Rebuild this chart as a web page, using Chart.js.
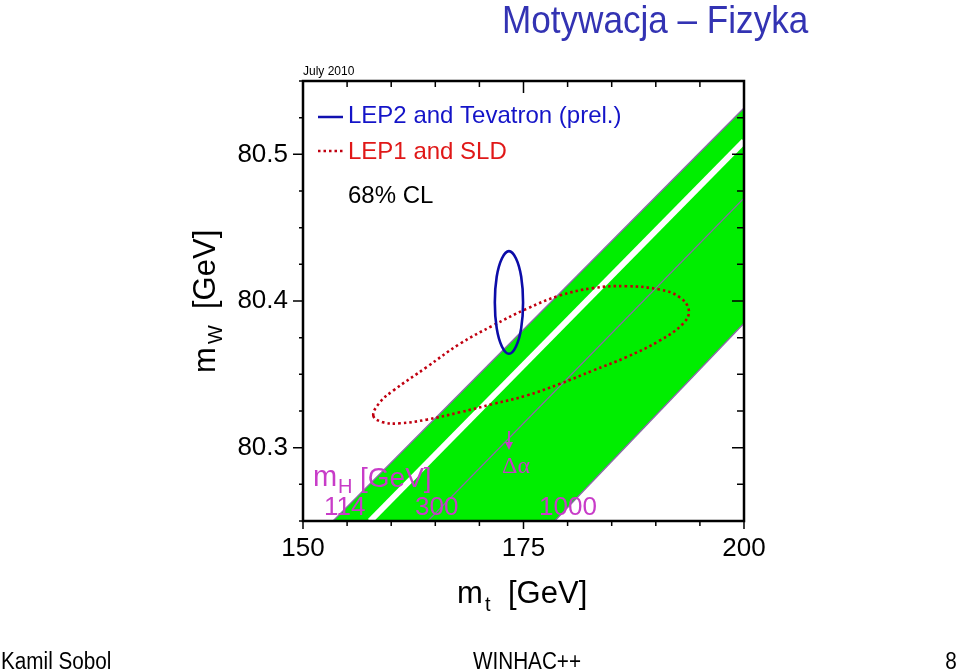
<!DOCTYPE html>
<html>
<head>
<meta charset="utf-8">
<script src="https://cdn.jsdelivr.net/npm/chart.js@4.4.0/dist/chart.umd.min.js"></script>
<style>
  body { margin: 0; width: 960px; height: 670px; overflow: hidden; background: #fff; position: relative; font-family: "Liberation Sans", Arial, sans-serif; }
  #plot { position: absolute; left: 0; top: 0; }
  .slide { position: absolute; line-height: 1; white-space: nowrap; }
  .title { right: 152px; top: 0; font-size: 39px; color: #3333b3; transform: scaleX(0.9); transform-origin: right top; }
  .foot { top: 650px; font-size: 23px; color: #000; transform: scaleX(0.9); }
</style>
</head>
<body>
<canvas id="plot" width="960" height="670"></canvas>
<div class="slide title">Motywacja – Fizyka</div>
<div class="slide foot" style="left:1px; transform-origin:left top;">Kamil Sobol</div>
<div class="slide foot" style="left:427px; width:200px; text-align:center; transform-origin:center top;">WINHAC++</div>
<div class="slide foot" style="right:3px; transform-origin:right top;">8</div>
<script>
// axis ranges (GeV)
const mtRange = [150, 200];
const mwRange = [80.25, 80.55];

// SM prediction: lines of constant mH, end points
const mhLabels = ['114', '300', '1000'];
const mhLineMt = [[153.4, 200], [164.16, 200], [178.54, 200]];
const mhLineMw = [[80.25, 80.5316], [80.25, 80.4701], [80.25, 80.3848]];

// strip excluded by the Tevatron (white)
const exclMt = [157.6, 200];
const exclMw = [80.25, 80.509];

// LEP2 and Tevatron (prel.), 68% CL contour (closed)
const directMt = [173.35, 174.15, 174.74, 174.95, 174.74, 174.15, 173.35, 172.55, 171.96, 171.75, 171.96, 172.55];
const directMw = [80.434, 80.429, 80.4165, 80.399, 80.3815, 80.369, 80.364, 80.369, 80.3815, 80.399, 80.4165, 80.429];

// LEP1 and SLD, 68% CL contour (closed)
const indirectMt = [157.97, 158.72, 160.23, 164.00, 167.78, 171.55, 175.33, 179.11, 182.88, 186.66, 190.43, 192.70, 193.75,
                    193.07, 190.43, 186.66, 182.88, 179.11, 175.33, 171.55, 167.78, 164.00, 160.99, 159.10];
const indirectMw = [80.3218, 80.3309, 80.3389, 80.3548, 80.3708, 80.3833, 80.3946, 80.4037, 80.4088, 80.4101, 80.4078, 80.4026, 80.3935,
                    80.3844, 80.3730, 80.3617, 80.3526, 80.3435, 80.3355, 80.3298, 80.3241, 80.3191, 80.3166, 80.3173];

const pts = (xs, ys) => xs.map((x, i) => ({ x: x, y: ys[i] }));

const bandPts = pts(mhLineMt[0], mhLineMw[0]).concat(pts(mhLineMt[2], mhLineMw[2]).reverse());
bandPts.push(bandPts[0]);

const green = '#00ee00';
const purple = '#8c68a8';
const magenta = '#c83cc8';

Chart.defaults.font.family = '"Liberation Sans", Arial, sans-serif';

const isMajorMw = v => Math.abs(v * 10 - Math.round(v * 10)) < 1e-6;
const isMajorMt = v => Math.abs(v % 25) < 1e-6;

// contours are closed curves: let the line element join its ends smoothly
const closeContours = {
  id: 'closeContours',
  afterDatasetUpdate(chart, args) {
    const ds = chart.data.datasets[args.index];
    if (ds.closed) {
      args.meta.dataset._loop = true;
      args.meta.dataset._fullLoop = true;
    }
  }
};

const overlay = {
  id: 'overlay',
  afterDatasetsDraw(chart) {
    const ctx = chart.ctx;
    ctx.save();
    // legend
    ctx.lineWidth = 2.5;
    ctx.strokeStyle = '#1010b0';
    ctx.beginPath(); ctx.moveTo(318, 117); ctx.lineTo(343, 117); ctx.stroke();
    ctx.strokeStyle = '#c00010';
    ctx.setLineDash([2.5, 3]);
    ctx.beginPath(); ctx.moveTo(318, 151); ctx.lineTo(343, 151); ctx.stroke();
    ctx.setLineDash([]);
    ctx.textBaseline = 'alphabetic';
    ctx.textAlign = 'left';
    ctx.font = '24px "Liberation Sans", Arial';
    ctx.fillStyle = '#1414c8';
    ctx.fillText('LEP2 and Tevatron (prel.)', 348, 123);
    ctx.fillStyle = '#e01818';
    ctx.fillText('LEP1 and SLD', 348, 159);
    ctx.fillStyle = '#000';
    ctx.fillText('68% CL', 348, 203);

    // mH labels
    ctx.fillStyle = magenta;
    ctx.font = '29px "Liberation Sans", Arial';
    ctx.fillText('m', 313, 486);
    ctx.font = '20px "Liberation Sans", Arial';
    ctx.fillText('H', 338, 493);
    ctx.font = '28px "Liberation Sans", Arial';
    ctx.fillText('[GeV]', 360, 487);
    ctx.font = '26px "Liberation Sans", Arial';
    ctx.fillText(mhLabels[0], 324, 515);
    ctx.fillText(mhLabels[1], 415, 515);
    ctx.fillText(mhLabels[2], 539, 515);

    // delta alpha arrow
    ctx.strokeStyle = magenta;
    ctx.lineWidth = 1.8;
    ctx.beginPath(); ctx.moveTo(509, 431); ctx.lineTo(509, 445); ctx.stroke();
    ctx.beginPath(); ctx.moveTo(505, 442); ctx.lineTo(513, 442); ctx.lineTo(509, 450); ctx.closePath(); ctx.fill();
    ctx.font = '24px "Liberation Serif", "DejaVu Serif", serif';
    ctx.fillText('Δα', 502, 473);
    ctx.restore();
  },
  afterDraw(chart) {
    const ctx = chart.ctx;
    const a = chart.chartArea;
    const xs = chart.scales.x, ys = chart.scales.y;
    ctx.save();
    ctx.strokeStyle = '#000';
    ctx.lineWidth = 1.5;
    ctx.beginPath();
    xs.ticks.forEach(t => {
      const p = xs.getPixelForValue(t.value);
      const major = isMajorMt(t.value);
      ctx.moveTo(p, a.bottom); ctx.lineTo(p, a.bottom + (major ? 8 : 5));
      ctx.moveTo(p, a.top); ctx.lineTo(p, a.top + (major ? 12 : 6));
    });
    ys.ticks.forEach(t => {
      const p = ys.getPixelForValue(t.value);
      const major = isMajorMw(t.value);
      ctx.moveTo(a.left, p); ctx.lineTo(a.left - (major ? 10 : 4), p);
      ctx.moveTo(a.right, p); ctx.lineTo(a.right - (major ? 12 : 7), p);
    });
    ctx.stroke();
    ctx.lineWidth = 2.5;
    ctx.strokeRect(a.left, a.top, a.right - a.left, a.bottom - a.top);

    ctx.fillStyle = '#000';
    ctx.textAlign = 'left';
    ctx.textBaseline = 'alphabetic';
    ctx.font = '12px "Liberation Sans", Arial';
    ctx.fillText('July 2010', a.left, a.top - 6);

    // x title
    ctx.font = '31px "Liberation Sans", Arial';
    ctx.fillText('m', 457, 603);
    ctx.fillText('[GeV]', 508, 603);
    ctx.font = '20px "Liberation Sans", Arial';
    ctx.fillText('t', 485, 611);

    // y title
    ctx.translate(215, 373);
    ctx.rotate(-Math.PI / 2);
    ctx.font = '31px "Liberation Sans", Arial';
    ctx.fillText('m', 0, 0);
    ctx.fillText('[GeV]', 64, 0);
    ctx.font = '20px "Liberation Sans", Arial';
    ctx.fillText('W', 29, 7);
    ctx.restore();
  }
};

new Chart(document.getElementById('plot').getContext('2d'), {
  type: 'scatter',
  data: {
    datasets: [
      { label: 'SM band', data: bandPts, showLine: true, fill: 'shape', backgroundColor: green,
        borderColor: 'transparent', borderWidth: 0, pointRadius: 0, order: 6 },
      { label: 'Tevatron excluded', data: pts(exclMt, exclMw), showLine: true, borderColor: '#fff',
        borderWidth: 6, pointRadius: 0, order: 5 },
      { label: 'mH ' + mhLabels[0], data: pts(mhLineMt[0], mhLineMw[0]), showLine: true, borderColor: purple,
        borderWidth: 1.3, pointRadius: 0, order: 4 },
      { label: 'mH ' + mhLabels[1], data: pts(mhLineMt[1], mhLineMw[1]), showLine: true, borderColor: purple,
        borderWidth: 1.3, pointRadius: 0, order: 4 },
      { label: 'mH ' + mhLabels[2], data: pts(mhLineMt[2], mhLineMw[2]), showLine: true, borderColor: purple,
        borderWidth: 1.3, pointRadius: 0, order: 4 },
      { label: 'LEP1 and SLD', data: pts(indirectMt, indirectMw), closed: true, showLine: true, borderColor: '#c00010',
        borderWidth: 2.6, borderDash: [2.5, 3], tension: 0.4, pointRadius: 0, order: 2 },
      { label: 'LEP2 and Tevatron (prel.)', data: pts(directMt, directMw), closed: true, showLine: true, borderColor: '#0c0ca8',
        borderWidth: 2.6, tension: 0.4, pointRadius: 0, order: 1 }
    ]
  },
  options: {
    responsive: false,
    animation: false,
    devicePixelRatio: 1,
    layout: { padding: { left: 0, top: 81, right: 216, bottom: 0 } },
    plugins: { legend: { display: false }, tooltip: { enabled: false } },
    scales: {
      x: {
        type: 'linear', min: mtRange[0], max: mtRange[1],
        grid: { display: false, drawTicks: false },
        border: { display: false },
        afterFit: s => { s.height = 149; },
        ticks: { stepSize: 5, maxTicksLimit: 20, autoSkip: false, maxRotation: 0, padding: 12,
                 color: '#000', font: { size: 26 },
                 callback: v => isMajorMt(v) ? String(v) : '' }
      },
      y: {
        type: 'linear', min: mwRange[0], max: mwRange[1],
        grid: { display: false, drawTicks: false },
        border: { display: false },
        afterFit: s => { s.width = 303; },
        ticks: { stepSize: 0.025, maxTicksLimit: 20, autoSkip: false, padding: 15,
                 color: '#000', font: { size: 26 },
                 callback: v => isMajorMw(v) ? v.toFixed(1) : '' }
      }
    }
  },
  plugins: [closeContours, overlay]
});
</script>
</body>
</html>
